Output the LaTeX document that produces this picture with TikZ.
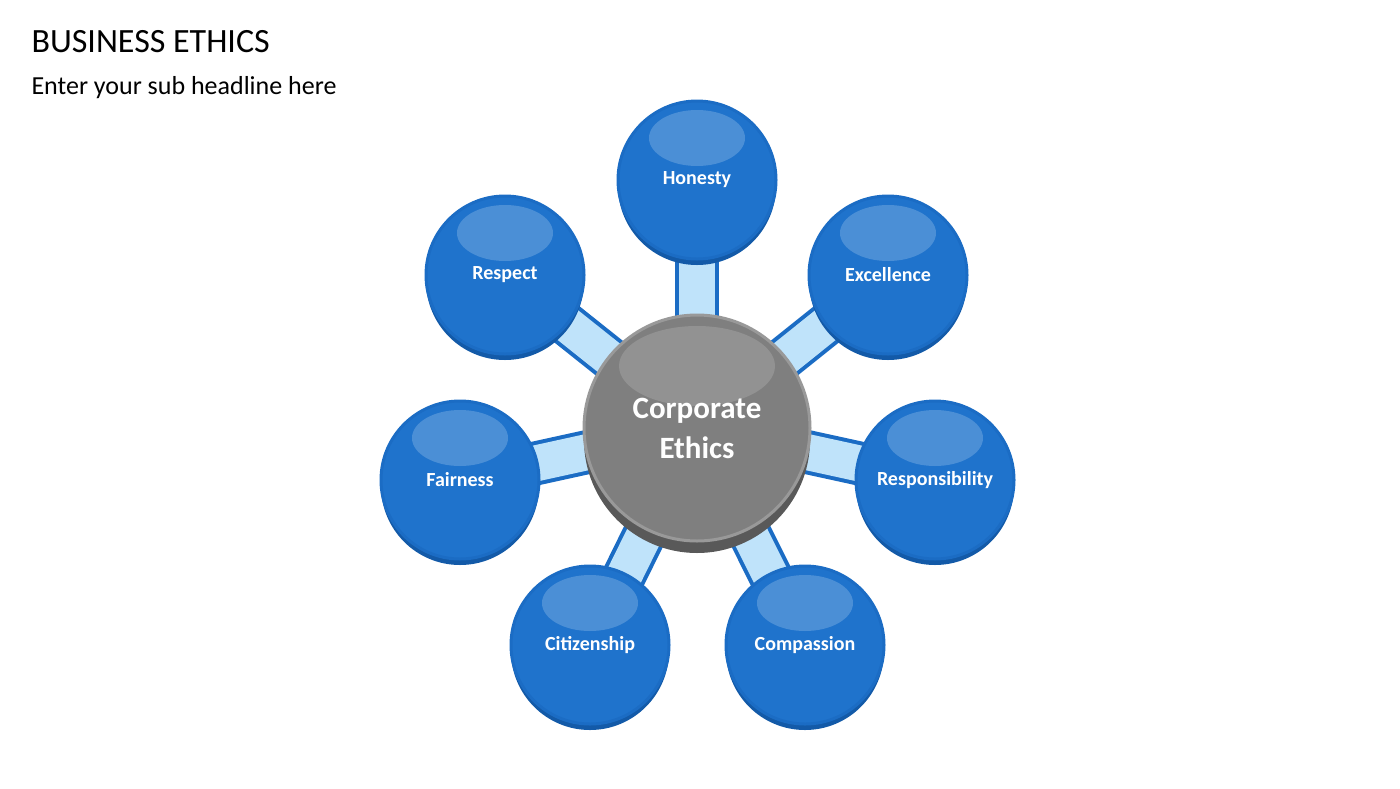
\documentclass[tikz,border=0pt]{standalone}
\usepackage{fontspec}
\setmainfont{Carlito}
\usetikzlibrary{positioning,calc}
\definecolor{ringblue}{HTML}{1B6CC4}
\definecolor{ballblue}{HTML}{1F73CC}
\definecolor{deepblue}{HTML}{135AA8}
\definecolor{barblue}{HTML}{BFE3FA}
\definecolor{ballgrey}{HTML}{7F7F7F}
\definecolor{deepgrey}{HTML}{595959}

\begin{document}
\begin{tikzpicture}[
  x=1pt, y=-1pt,
  bar/.style={line width=44pt, ringblue},
  barin/.style={line width=36pt, barblue},
  ball/.style={shape=circle, minimum size=158pt, inner sep=0pt, fill=ballblue, draw=ringblue, line width=3pt,
    text=white, font=\bfseries\fontsize{20}{22}\selectfont},
  ballshadow/.style={shape=circle, minimum size=158pt, fill=deepblue},
  hub/.style={shape=circle, minimum size=226pt, inner sep=0pt, fill=ballgrey, draw=ballgrey!80!white, line width=3pt,
    text=white, font=\bfseries\fontsize{31}{40}\selectfont, align=center},
  ]
  \useasboundingbox (0,0) rectangle (1400,788);
  \node[anchor=west, font=\fontsize{34}{36}\selectfont] (title) at (28,42) {BUSINESS ETHICS};
  \node[anchor=west, font=\fontsize{26}{28}\selectfont] (sub) at (28,88) {Enter your sub headline here};

  % spoke positions
  \coordinate (ctr) at (697,428);
  \coordinate (hon) at (697,180);
  \coordinate (exc) at (888,275);
  \coordinate (res) at (935,480);
  \coordinate (com) at (805,645);
  \coordinate (cit) at (590,645);
  \coordinate (fai) at (460,480);
  \coordinate (rsp) at (505,275);

  \foreach \p in {hon,exc,res,com,cit,fai,rsp}{
    \draw[bar] (ctr) -- (\p);
    \draw[barin] (ctr) -- (\p);
  }

  \foreach \p/\t in {hon/Honesty,exc/Excellence,res/Responsibility,com/Compassion,
                     cit/Citizenship,fai/Fairness,rsp/Respect}{
    \node[ballshadow] at ($(\p)+(0,6)$) {};
    \node[ball] (\p-ball) at (\p) {\t};
    \fill[white, opacity=0.2] ($(\p)+(0,-42)$) ellipse (48 and 28);
  }

  \node[shape=circle, minimum size=226pt, fill=deepgrey] at ($(ctr)+(0,12)$) {};
  \node[hub] (hub) at (ctr) {Corporate\\Ethics};
  \fill[white, opacity=0.15] ($(ctr)+(0,-62)$) ellipse (78 and 40);
\end{tikzpicture}
\end{document}
